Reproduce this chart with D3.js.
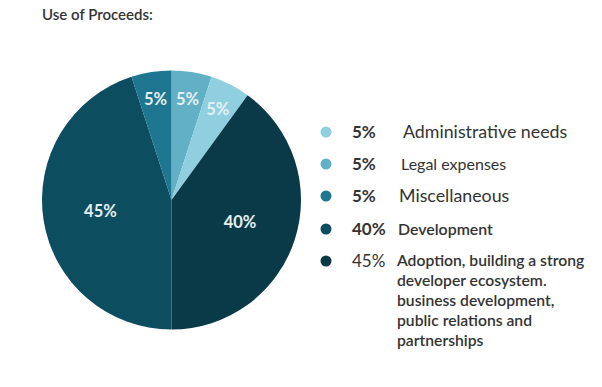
<!DOCTYPE html>
<html><head><meta charset="utf-8">
<script src="https://cdn.jsdelivr.net/npm/d3@7"></script>
<style>html,body{margin:0;padding:0;background:#fff;}svg{display:block;}</style>
</head><body>
<svg id="chart" width="602" height="387"></svg>
<script>
// Pie slices, clockwise from 12 o'clock
const sliceLabels = ["5%", "5%", "40%", "45%", "5%"];
const sliceValues = [5, 5, 40, 45, 5];
const sliceColors = ["#62b0c6", "#8fcfe0", "#0a3a48", "#0d4d60", "#1e7690"];

// Legend
const legendPct = ["5%", "5%", "5%", "40%", "45%"];
const legendNames = [
  ["Administrative needs"],
  ["Legal expenses"],
  ["Miscellaneous"],
  ["Development"],
  ["Adoption, building a strong", "developer ecosystem.", "business development,", "public relations and", "partnerships"]
];
const legendColors = ["#8fcfe0", "#62b0c6", "#1e7690", "#0d4d60", "#0a3a48"];

const svg = d3.select("#chart");
const font = "Lato, 'Source Sans Pro', 'Noto Sans', sans-serif";

svg.append("text").attr("x", 42).attr("y", 20)
  .attr("font-family", font).attr("font-size", 15).attr("font-weight", 600)
  .attr("fill", "#333").text("Use of Proceeds:");

const cx = 171.5, cy = 200, R = 129.5;
const g = svg.append("g").attr("transform", `translate(${cx},${cy})`);
const pie = d3.pie().sort(null).value(d => d)(sliceValues);
const arc = d3.arc().innerRadius(0).outerRadius(R);
g.selectAll("path.slice").data(pie).join("path")
  .attr("class", "slice")
  .attr("d", arc)
  .attr("fill", (d, i) => sliceColors[i]);

g.selectAll("text.lbl").data(pie).join("text")
  .attr("class", "lbl")
  .attr("transform", d => {
    const r = d.data >= 20 ? 72 : 102;
    const c = d3.arc().innerRadius(r).outerRadius(r).centroid(d);
    return `translate(${c[0]},${c[1]})`;
  })
  .attr("text-anchor", "middle").attr("dy", "0.35em")
  .attr("font-family", font).attr("font-size", 16.5).attr("font-weight", 700)
  .attr("fill", "#e6eff2")
  .text((d, i) => sliceLabels[i]);

const legY = [132, 164, 196, 229, 261];
const pctWeight = [700, 700, 700, 700, 400];
const nameX = [403, 401, 399, 398, 397];
const nameSize = [17.8, 16, 17.8, 15.9, 15.7];
const nameWeight = [400, 400, 400, 600, 600];
const lineStep = [0, 0, 0, 0, 20];
const lg = svg.append("g");
legendNames.forEach((lines, i) => {
  lg.append("circle").attr("cx", 326).attr("cy", legY[i]).attr("r", 5.5).attr("fill", legendColors[i]);
  lg.append("text").attr("x", 352).attr("y", legY[i]).attr("dy", "0.35em")
    .attr("font-family", font).attr("font-size", 17).attr("font-weight", pctWeight[i])
    .attr("fill", "#333").text(legendPct[i]);
  lines.forEach((t, j) => {
    lg.append("text").attr("x", nameX[i]).attr("y", legY[i] + j * lineStep[i]).attr("dy", "0.35em")
      .attr("font-family", font).attr("font-size", nameSize[i]).attr("font-weight", nameWeight[i])
      .attr("fill", "#333").text(t);
  });
});
</script>
</body></html>
